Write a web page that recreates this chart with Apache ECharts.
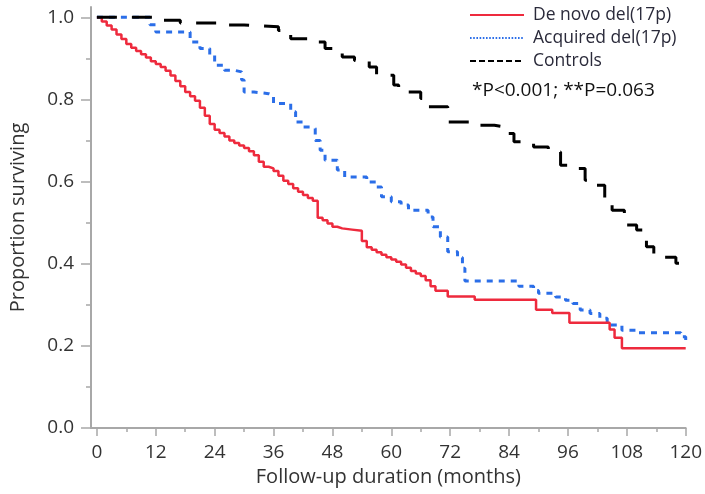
<!DOCTYPE html>
<html>
<head>
<meta charset="utf-8">
<title>Survival by del(17p)</title>
<script src="https://cdn.jsdelivr.net/npm/echarts@6/dist/echarts.min.js"></script>
<style>
  html, body { margin: 0; padding: 0; background: #fff; }
  #chart { width: 705px; height: 494px; }
</style>
</head>
<body>
<div id="chart"></div>
<script>
// tick positions
var xTicks = [0, 12, 24, 36, 48, 60, 72, 84, 96, 108, 120];
var xMinorTicks = [6, 18, 30, 42, 54, 66, 78, 90, 102, 114];
var yTicks = [0, 0.2, 0.4, 0.6, 0.8, 1.0];
var yMinorTicks = [0.1, 0.3, 0.5, 0.7, 0.9];

// De novo del(17p) - event times (months) and survival after each step
var deNovoTime = [0, 1, 2, 3, 4, 5, 6, 7, 8, 9, 10, 11, 12, 13, 14, 15, 16, 17, 18, 19, 20,
  21, 22, 23, 24, 25, 26, 27, 28, 29, 30, 31, 32, 33, 34, 35, 36, 37, 38, 39, 40,
  41, 42, 43, 44, 45, 46, 47, 48, 49, 50, 52, 54, 55, 56, 57, 58, 59, 60, 61, 62,
  63, 64, 65, 66, 67, 68, 69, 71.5, 77, 89.5, 92.8, 96.3, 104.5, 105.5, 107, 120];
var deNovoSurv = [1.0, 0.99, 0.98, 0.97, 0.958, 0.947, 0.935, 0.926, 0.918, 0.91, 0.902, 0.893, 0.886, 0.879, 0.87, 0.858, 0.845, 0.832, 0.818, 0.808, 0.797,
  0.78, 0.76, 0.74, 0.726, 0.718, 0.71, 0.7, 0.694, 0.688, 0.682, 0.674, 0.664, 0.648, 0.636, 0.632, 0.626, 0.614, 0.602, 0.594, 0.584,
  0.575, 0.567, 0.56, 0.553, 0.512, 0.506, 0.498, 0.49, 0.486, 0.483, 0.48, 0.455, 0.44, 0.434, 0.428, 0.422, 0.416, 0.41, 0.405, 0.398,
  0.39, 0.382, 0.376, 0.37, 0.36, 0.345, 0.334, 0.32, 0.312, 0.288, 0.28, 0.256, 0.24, 0.22, 0.194, 0.194];

// Acquired del(17p)
var acquiredTime = [0, 10.8, 12, 19, 21, 23, 24, 26, 28, 29.5, 30, 32, 35, 36, 39.5, 40.5, 42, 44, 44.5, 45.5, 46.5,
  49, 50.5, 55, 57, 58, 60, 62, 63.5, 67.5, 68.5, 70, 71.5, 73.5, 74.5, 75, 86, 89, 90, 93.5, 95.5,
  97, 98.5, 100.5, 102.5, 104, 107, 110, 119, 120];
var acquiredSurv = [1.0, 0.982, 0.964, 0.94, 0.924, 0.908, 0.883, 0.871, 0.867, 0.847, 0.818, 0.814, 0.81, 0.79, 0.77, 0.745, 0.733, 0.729, 0.70, 0.676, 0.652,
  0.628, 0.611, 0.599, 0.587, 0.563, 0.551, 0.543, 0.53, 0.514, 0.49, 0.465, 0.429, 0.415, 0.389, 0.358, 0.345, 0.335, 0.328, 0.319, 0.311,
  0.303, 0.287, 0.279, 0.267, 0.251, 0.238, 0.232, 0.222, 0.207];

// Controls
var controlTime = [0, 11.8, 17, 26, 30, 37, 39.5, 44.5, 46.5, 50, 52.5, 55.5, 57, 60.5, 61.5, 66, 67.5, 71.5,
  76, 81, 83, 85, 89, 92, 94.5, 97, 99.5, 101.5, 103.5, 105, 107.5, 110, 112, 113.5, 118, 120];
var controlSurv = [1.0, 0.993, 0.986, 0.981, 0.977, 0.968, 0.948, 0.94, 0.924, 0.903, 0.895, 0.879, 0.859, 0.835, 0.818, 0.802, 0.782, 0.745,
  0.737, 0.733, 0.717, 0.697, 0.684, 0.672, 0.64, 0.632, 0.603, 0.591, 0.547, 0.53, 0.494, 0.482, 0.441, 0.416, 0.401, 0.401];

function pairs(t, s) {
  return t.map(function (v, i) { return [v, s[i]]; });
}

var font = '"Open Sans", "Noto Sans", sans-serif';
var axisGray = '#a8a8a8';
var hideDot = { opacity: 0 };

var chart = echarts.init(document.getElementById('chart'));
chart.setOption({
  animation: false,
  textStyle: { fontFamily: font },
  grid: { left: 91, right: 18, top: 7, bottom: 66 },
  legend: {
    orient: 'vertical',
    left: 469,
    top: 6,
    padding: 0,
    itemWidth: 54,
    itemHeight: 20,
    itemGap: 5,
    textStyle: { fontSize: 17.5, color: '#2a2a3a', fontFamily: font, padding: [0, 0, 0, 4] },
    data: [
      { name: 'De novo del(17p)', itemStyle: hideDot, lineStyle: { width: 2 } },
      { name: 'Acquired del(17p)', itemStyle: hideDot, lineStyle: { width: 2, type: [1.6, 1.6] } },
      { name: 'Controls', itemStyle: hideDot, lineStyle: { width: 2, type: [6, 3] } }
    ]
  },
  graphic: [{
    type: 'text',
    left: 472,
    top: 81,
    style: { text: '*P<0.001; **P=0.063', fontSize: 19, fill: '#111', fontFamily: font }
  }],
  xAxis: [{
    type: 'value',
    min: -1.2,
    max: 120,
    name: 'Follow-up duration (months)',
    nameLocation: 'middle',
    nameGap: 38,
    nameTextStyle: { fontSize: 20, color: '#333' },
    axisLine: { onZero: false, lineStyle: { color: axisGray, width: 2 } },
    axisTick: { customValues: xTicks, length: 8, lineStyle: { color: axisGray, width: 1.5 } },
    axisLabel: { customValues: xTicks, margin: 15, fontSize: 19, color: '#333' },
    splitLine: { show: false }
  }, {
    type: 'value',
    position: 'bottom',
    min: -1.2,
    max: 120,
    axisLine: { show: false, onZero: false },
    axisTick: { customValues: xMinorTicks, length: 4, lineStyle: { color: axisGray, width: 1.5 } },
    axisLabel: { show: false },
    splitLine: { show: false }
  }],
  yAxis: [{
    type: 'value',
    min: 0,
    max: 1.025,
    name: 'Proportion surviving',
    nameLocation: 'middle',
    nameGap: 63,
    nameTextStyle: { fontSize: 20, color: '#333' },
    axisLine: { show: true, onZero: false, lineStyle: { color: axisGray, width: 2 } },
    axisTick: { show: true, customValues: yTicks, length: 10, lineStyle: { color: axisGray, width: 1.5 } },
    axisLabel: {
      customValues: yTicks,
      margin: 17,
      fontSize: 19,
      color: '#333',
      formatter: function (v) { return v.toFixed(1); }
    },
    splitLine: { show: false }
  }, {
    type: 'value',
    position: 'left',
    min: 0,
    max: 1.025,
    axisLine: { show: false, onZero: false },
    axisTick: { show: true, customValues: yMinorTicks, length: 5, lineStyle: { color: axisGray, width: 1.5 } },
    axisLabel: { show: false },
    splitLine: { show: false }
  }],
  series: [{
    name: 'De novo del(17p)',
    type: 'line',
    step: 'end',
    symbol: 'none',
    color: '#ee2a3d',
    lineStyle: { color: '#ee2a3d', width: 2.5 },
    z: 4,
    data: pairs(deNovoTime, deNovoSurv)
  }, {
    name: 'Acquired del(17p)',
    type: 'line',
    step: 'end',
    symbol: 'none',
    color: '#2b6ee8',
    lineStyle: { color: '#2b6ee8', width: 3, type: [6, 6] },
    z: 3,
    data: pairs(acquiredTime, acquiredSurv)
  }, {
    name: 'Controls',
    type: 'line',
    step: 'end',
    symbol: 'none',
    color: '#000',
    lineStyle: { color: '#000', width: 3, type: [20, 15] },
    z: 5,
    data: pairs(controlTime, controlSurv)
  }]
});
</script>
</body>
</html>
